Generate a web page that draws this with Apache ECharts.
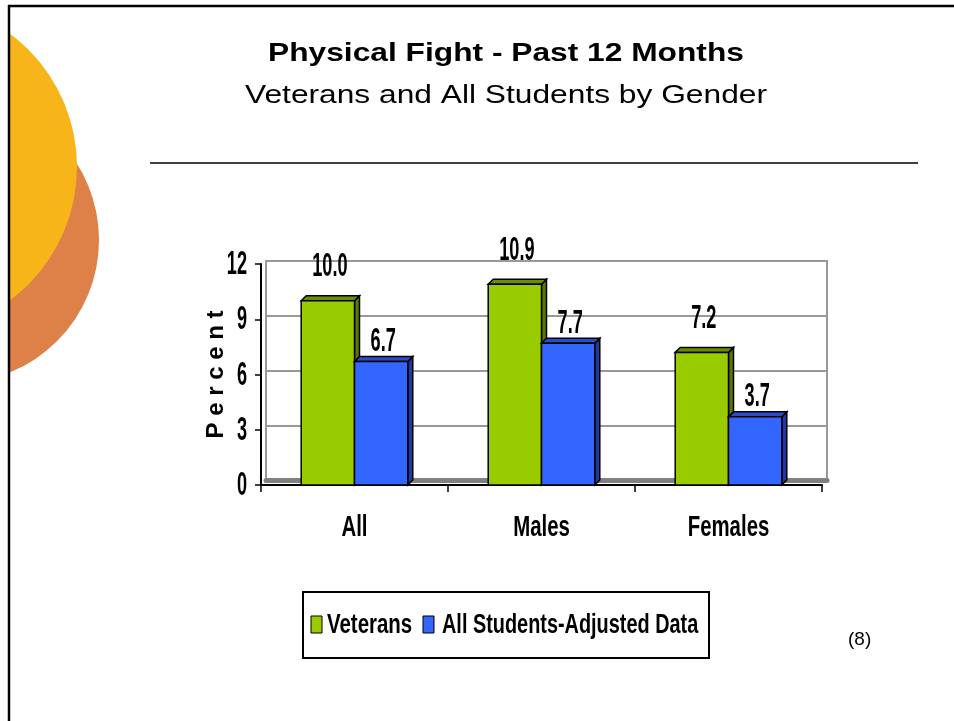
<!DOCTYPE html>
<html>
<head>
<meta charset="utf-8">
<title>Physical Fight - Past 12 Months</title>
<script src="https://cdn.jsdelivr.net/npm/echarts@6/dist/echarts.min.js"></script>
<style>
  html, body { margin: 0; padding: 0; background: #fff; }
  #chart { width: 954px; height: 721px; }
</style>
</head>
<body>
<div id="chart"></div>
<script>
// data
const categories = ['All', 'Males', 'Females'];
const veterans = [10.0, 10.9, 7.2];
const allStudents = [6.7, 7.7, 3.7];
const yTicks = [0, 3, 6, 9, 12];
const seriesNames = ['Veterans', 'All Students-Adjusted Data'];

const sans = "'Liberation Sans', Arial, sans-serif";
const depth = 5;
const green = ['#99CC00', '#6B8E00', '#5A7800'];
const blue = ['#3366FF', '#2A4CC8', '#1F3A9F'];

// the source font is a tall condensed bold face, so text is squeezed with scaleX
function narrowText(text, x, y, size, sx, align, valign) {
  return {
    type: 'text', x: x, y: y, scaleX: sx, silent: true,
    style: {
      text: text, fontFamily: sans, fontWeight: 'bold', fontSize: size, fill: '#000',
      align: align, verticalAlign: valign, textAlign: align, textVerticalAlign: valign
    }
  };
}

// front face + top + side, placed through the axes
function bar3d(side, colors, labelGap) {
  return function (params, api) {
    const cat = api.value(0);
    const val = api.value(1);
    const base = api.coord([cat, 0]);
    const tip = api.coord([cat, val]);
    const bw = api.size([1, 0])[0] * 0.285;
    const x0 = side < 0 ? base[0] - bw : base[0];
    const y0 = tip[1];
    const y1 = base[1];
    const line = { stroke: '#000', lineWidth: 1.5 };
    return {
      type: 'group',
      children: [
        {
          type: 'polygon',
          shape: { points: [[x0 + bw, y0], [x0 + bw + depth, y0 - depth], [x0 + bw + depth, y1 - depth], [x0 + bw, y1]] },
          style: Object.assign({ fill: colors[2] }, line)
        },
        {
          type: 'polygon',
          shape: { points: [[x0, y0], [x0 + depth, y0 - depth], [x0 + bw + depth, y0 - depth], [x0 + bw, y0]] },
          style: Object.assign({ fill: colors[1] }, line)
        },
        {
          type: 'rect',
          shape: { x: x0, y: y0, width: bw, height: y1 - y0 },
          style: Object.assign({ fill: colors[0] }, line)
        },
        narrowText(val.toFixed(1), x0 + bw / 2 + 2, y0 - labelGap, 33, 0.55, 'center', 'bottom')
      ]
    };
  };
}

function categoryLabel(params, api) {
  const p = api.coord([api.value(0), 0]);
  return narrowText(categories[params.dataIndex], p[0], p[1] + 58, 30, 0.68, 'center', 'bottom');
}

function tickLabel(params, api) {
  const p = api.coord([0, api.value(1)]);
  return narrowText(String(api.value(1)), params.coordSys.x - 14, p[1] + 1, 33, 0.55, 'right', 'middle');
}

const chart = echarts.init(document.getElementById('chart'));

chart.setOption({
  animation: false,
  backgroundColor: '#fff',
  graphic: [
    { type: 'circle', shape: { cx: -44, cy: 240, r: 143 }, style: { fill: '#DE8149' }, z: -10 },
    { type: 'circle', shape: { cx: -89, cy: 167, r: 166 }, style: { fill: '#F7B519' }, z: -9 },
    { type: 'rect', shape: { x: 0, y: 0, width: 8, height: 721 }, style: { fill: '#fff' }, z: -8 },
    { type: 'rect', shape: { x: 0, y: 0, width: 954, height: 5 }, style: { fill: '#fff' }, z: -8 },
    { type: 'line', shape: { x1: 8, y1: 6, x2: 954, y2: 6 }, style: { stroke: '#000', lineWidth: 2.5 } },
    { type: 'line', shape: { x1: 9, y1: 5, x2: 9, y2: 721 }, style: { stroke: '#000', lineWidth: 2.5 } },
    // titles
    {
      type: 'text', x: 506, y: 67, scaleX: 1.22,
      style: { text: 'Physical Fight - Past 12 Months', fontFamily: sans, fontWeight: 'bold', fontSize: 26, fill: '#000',
               align: 'center', verticalAlign: 'bottom', textAlign: 'center', textVerticalAlign: 'bottom' }
    },
    {
      type: 'text', x: 506, y: 109, scaleX: 1.22,
      style: { text: 'Veterans and All Students by Gender', fontFamily: sans, fontSize: 26, fill: '#000',
               align: 'center', verticalAlign: 'bottom', textAlign: 'center', textVerticalAlign: 'bottom' }
    },
    { type: 'line', shape: { x1: 150, y1: 163, x2: 918, y2: 163 }, style: { stroke: '#000', lineWidth: 1.5 } },
    // legend box
    { type: 'rect', shape: { x: 303, y: 592, width: 406, height: 66 }, style: { fill: '#fff', stroke: '#000', lineWidth: 2 } },
    { type: 'rect', shape: { x: 311, y: 616, width: 11, height: 17 }, style: { fill: green[0], stroke: '#000', lineWidth: 1 } },
    Object.assign(narrowText(seriesNames[0], 327, 639, 28, 0.73, 'left', 'bottom'), { z: 5 }),
    { type: 'rect', shape: { x: 423, y: 616, width: 11, height: 17 }, style: { fill: blue[0], stroke: '#000', lineWidth: 1 } },
    Object.assign(narrowText(seriesNames[1], 442, 639, 28, 0.71, 'left', 'bottom'), { z: 5 }),
    { type: 'text', x: 848, y: 630, style: { text: '(8)', fontFamily: sans, fontSize: 19, fill: '#000' } }
  ],
  grid: [
    // front plane (bars, axes)
    { left: 261, top: 264, width: 561, height: 221 },
    // back wall of the 3D box
    { left: 266, top: 261, width: 561, height: 219, show: true, borderColor: '#999', borderWidth: 2 }
  ],
  xAxis: [
    {
      type: 'category', gridIndex: 0,
      data: categories,
      axisLine: { lineStyle: { color: '#000', width: 2 } },
      axisTick: { show: true, length: 7, lineStyle: { color: '#000', width: 1.5 } },
      axisLabel: { show: false }
    },
    {
      type: 'category', gridIndex: 1, offset: 2.5,
      data: categories,
      axisLine: { lineStyle: { color: '#808080', width: 5 } },
      axisTick: { show: false },
      axisLabel: { show: false }
    }
  ],
  yAxis: [
    {
      type: 'value', gridIndex: 0,
      min: 0, max: 12, interval: 3,
      name: 'P e r c e n t',
      nameLocation: 'middle', nameRotate: 90, nameGap: 33,
      nameTextStyle: { fontFamily: sans, fontWeight: 'bold', fontSize: 24, color: '#000' },
      axisLine: { show: true, lineStyle: { color: '#000', width: 2 } },
      axisTick: { show: true, length: 6, lineStyle: { color: '#000', width: 1.5 } },
      axisLabel: { show: false },
      splitLine: { show: false }
    },
    {
      type: 'value', gridIndex: 1,
      min: 0, max: 12, interval: 3,
      axisLine: { show: false },
      axisTick: { show: false },
      axisLabel: { show: false },
      splitLine: { lineStyle: { color: '#999', width: 2 } }
    }
  ],
  series: [
    {
      name: seriesNames[0],
      type: 'custom',
      itemStyle: { color: green[0] },
      renderItem: bar3d(-1, green, 17),
      data: veterans.map((v, i) => [i, v]),
      z: 3
    },
    {
      name: seriesNames[1],
      type: 'custom',
      itemStyle: { color: blue[0] },
      renderItem: bar3d(1, blue, 3),
      data: allStudents.map((v, i) => [i, v]),
      z: 4
    },
    {
      name: 'category labels',
      type: 'custom', silent: true, clip: false,
      renderItem: categoryLabel,
      data: categories.map((c, i) => [i, 0])
    },
    {
      name: 'tick labels',
      type: 'custom', silent: true, clip: false,
      renderItem: tickLabel,
      data: yTicks.map(v => [0, v])
    }
  ]
});
</script>
</body>
</html>
